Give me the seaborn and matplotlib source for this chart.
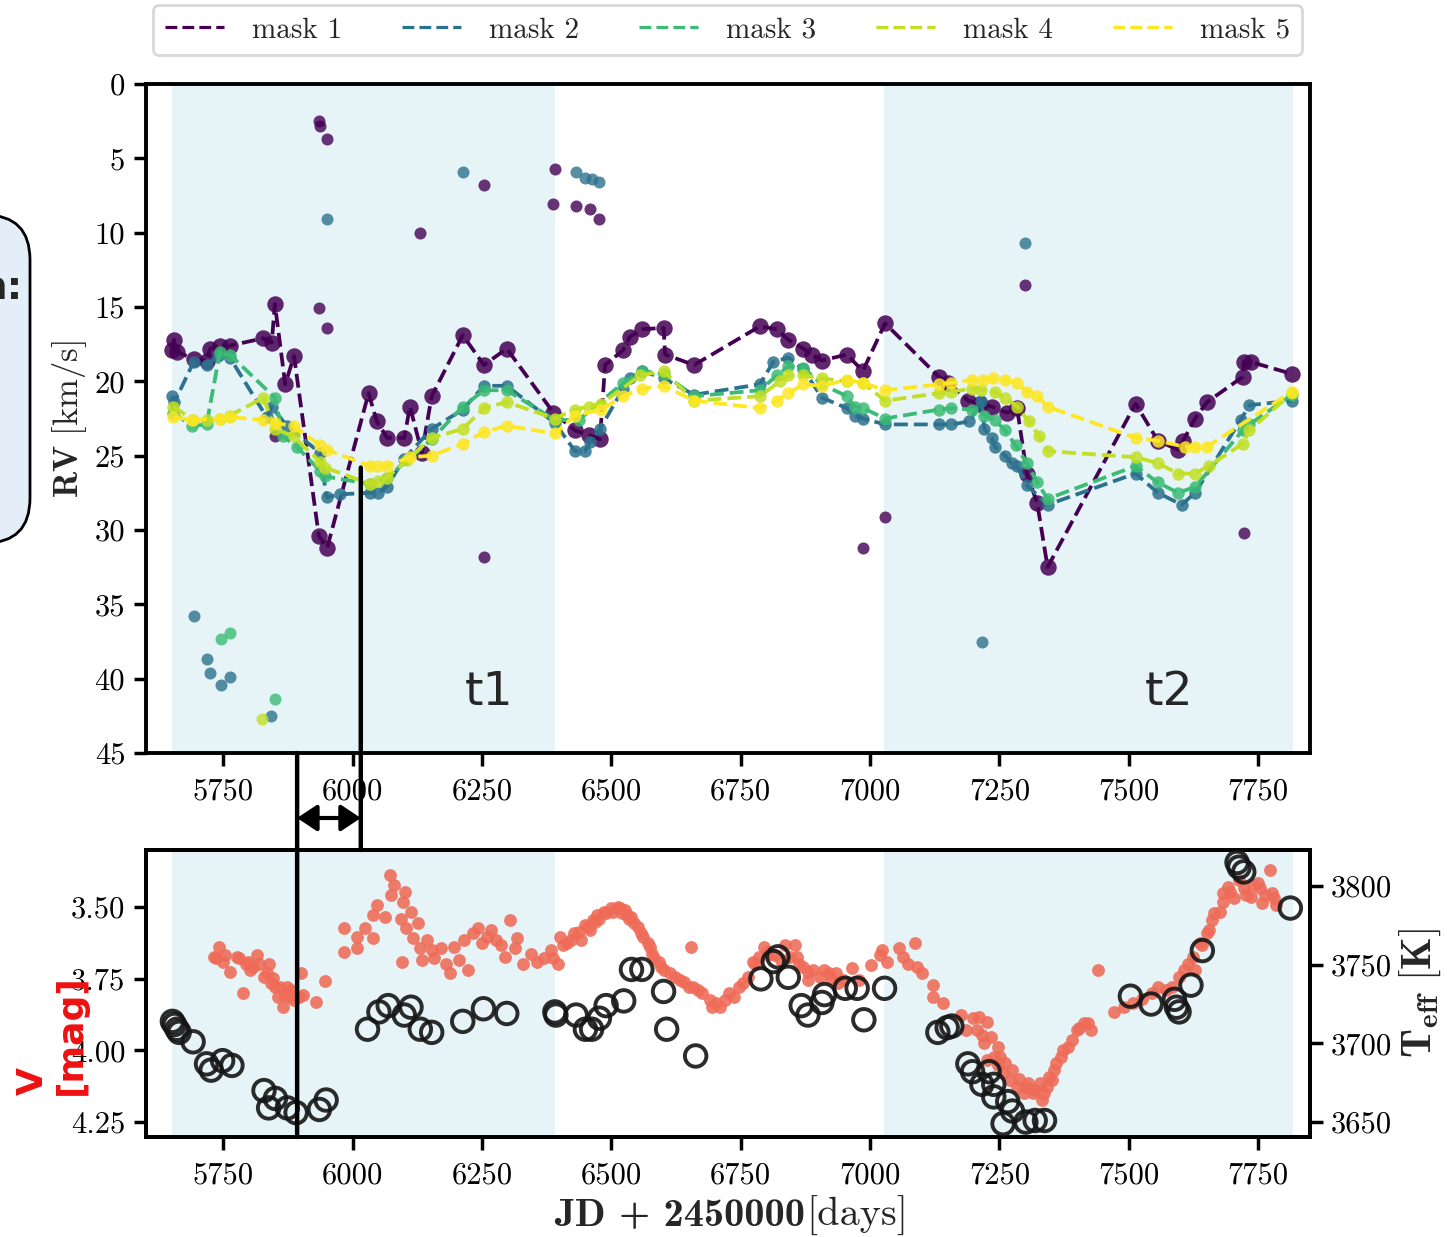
import numpy as np
import pandas as pd
import matplotlib
matplotlib.use("Agg")
import matplotlib.pyplot as plt
import seaborn as sns
from matplotlib.patches import ConnectionPatch, FancyBboxPatch
from matplotlib.transforms import blended_transform_factory

# ---------------- data ----------------
mask_labels = ["mask 1", "mask 2", "mask 3", "mask 4", "mask 5"]
mask_colors = ["#440154", "#2c728e", "#3bbb75", "#c2df23", "#fde725"]

m1_x = [5651, 5655, 5660, 5693, 5718, 5725, 5744, 5763, 5828, 5844, 5850, 5870, 5887, 5935, 5951,
        6031, 6047, 6067, 6100, 6111, 6134, 6153, 6213, 6254, 6298, 6388, 6430, 6456, 6478, 6488,
        6523, 6536, 6559, 6601, 6604, 6660, 6787, 6820, 6842, 6871, 6887, 6907, 6955, 6986, 7029,
        7133, 7151, 7190, 7212, 7235, 7264, 7284, 7303, 7323, 7343, 7513, 7556, 7595, 7605, 7628,
        7651, 7720, 7722, 7736, 7815]
m1_y = [17.9, 17.2, 18.0, 18.5, 18.6, 17.8, 17.6, 17.6, 17.1, 17.4, 14.8, 20.2, 18.3, 30.4, 31.2,
        20.8, 22.7, 23.8, 23.8, 21.7, 24.8, 21.0, 16.9, 18.9, 17.8, 22.1, 23.3, 23.6, 23.9, 18.9,
        17.9, 17.0, 16.5, 16.4, 18.2, 18.9, 16.3, 16.5, 17.2, 17.8, 18.2, 18.6, 18.2, 19.3, 16.1,
        19.7, 20.1, 21.3, 21.5, 21.7, 22.1, 21.8, 26.2, 28.2, 32.5, 21.5, 24.0, 24.6, 24.0, 22.5,
        21.4, 19.7, 18.7, 18.7, 19.5]
m1_out_x = [5935, 5937, 5951, 5935, 5951, 5850, 6131, 6254, 6391, 6388, 6432, 6459, 6477, 6254,
            6986, 7028, 7299, 7722]
m1_out_y = [2.5, 2.8, 3.7, 15.1, 16.4, 23.7, 10.0, 6.8, 5.7, 8.1, 8.2, 8.4, 9.1, 31.8,
            31.2, 29.1, 13.5, 30.2]

m2_x = [5652, 5656, 5693, 5718, 5741, 5763, 5834, 5844, 5873, 5937, 5950, 5976, 6034, 6050, 6066,
        6100, 6153, 6213, 6254, 6298, 6391, 6430, 6449, 6459, 6478, 6523, 6536, 6559, 6601, 6660,
        6787, 6813, 6842, 6871, 6907, 6955, 6971, 6986, 7029, 7133, 7156, 7192, 7215, 7221, 7235,
        7241, 7261, 7274, 7284, 7303, 7343, 7513, 7556, 7602, 7628, 7716, 7733, 7815]
m2_y = [21.0, 21.4, 18.7, 18.9, 18.3, 18.4, 22.4, 21.7, 23.0, 24.8, 27.8, 27.6, 27.5, 27.5, 27.1,
        25.2, 23.2, 21.9, 20.3, 20.3, 22.8, 24.7, 24.7, 24.1, 23.2, 20.5, 19.8, 19.3, 19.8, 20.9,
        20.2, 18.7, 18.4, 19.2, 21.1, 21.8, 22.3, 22.5, 22.9, 22.9, 22.9, 22.7, 21.3, 23.2, 23.8,
        24.4, 25.0, 25.5, 25.7, 27.0, 28.3, 26.2, 27.5, 28.3, 27.5, 22.6, 21.6, 21.3]
m2_out_x = [5951, 6213, 6432, 6450, 6463, 6477, 7299, 5693, 5718, 5725, 5745, 5764, 5842, 7217]
m2_out_y = [9.1, 5.9, 5.9, 6.3, 6.4, 6.6, 10.7, 35.8, 38.7, 39.6, 40.4, 39.9, 42.5, 37.5]

m3_x = [5654, 5689, 5718, 5744, 5763, 5850, 5866, 5892, 5937, 5947, 6034, 6066, 6153, 6213, 6254,
        6298, 6391, 6437, 6523, 6559, 6601, 6660, 6787, 6820, 6842, 6871, 6907, 6955, 6971, 6986,
        7029, 7133, 7156, 7196, 7221, 7241, 7261, 7281, 7303, 7323, 7343, 7513, 7556, 7595, 7628,
        7720, 7733, 7815]
m3_y = [22.1, 23.0, 22.9, 18.0, 18.2, 21.1, 23.7, 24.4, 26.0, 26.4, 26.9, 26.5, 23.9, 21.7, 20.6,
        20.6, 22.6, 22.6, 20.1, 19.3, 19.5, 21.0, 20.6, 19.6, 19.0, 19.1, 20.2, 21.0, 21.7, 21.8,
        22.5, 21.9, 21.8, 21.9, 22.3, 22.6, 23.3, 24.3, 25.5, 26.8, 27.9, 25.7, 26.8, 27.5, 27.1,
        23.3, 22.9, 20.9]
m3_out_x = [5745, 5764, 5851]
m3_out_y = [37.3, 36.9, 41.4]

m4_x = [5654, 5692, 5718, 5744, 5763, 5828, 5850, 5886, 5937, 5947, 6034, 6050, 6066, 6105, 6153,
        6213, 6254, 6298, 6391, 6430, 6456, 6481, 6556, 6601, 6660, 6787, 6826, 6842, 6871, 6907,
        6955, 6986, 7029, 7133, 7156, 7196, 7215, 7241, 7261, 7284, 7307, 7327, 7343, 7513, 7556,
        7595, 7628, 7654, 7720, 7733, 7815]
m4_y = [21.7, 22.6, 22.6, 22.5, 22.3, 21.1, 23.2, 23.7, 25.4, 25.8, 26.9, 26.7, 26.5, 25.3, 23.8,
        23.2, 21.8, 21.4, 22.5, 21.9, 21.7, 21.5, 19.6, 19.3, 21.3, 21.0, 20.0, 19.6, 19.6, 19.8,
        20.0, 20.1, 21.3, 20.8, 20.7, 20.5, 20.6, 20.7, 21.1, 21.7, 22.7, 23.7, 24.7, 25.1, 25.5,
        26.2, 26.2, 25.7, 24.2, 23.3, 20.8]
m4_out_x = [5826]
m4_out_y = [42.7]

m5_x = [5654, 5689, 5744, 5763, 5828, 5850, 5886, 5937, 5950, 6034, 6050, 6066, 6111, 6153, 6213,
        6254, 6298, 6391, 6430, 6481, 6523, 6559, 6601, 6660, 6787, 6820, 6842, 6871, 6907, 6955,
        6986, 7029, 7133, 7156, 7196, 7218, 7238, 7261, 7284, 7303, 7323, 7343, 7513, 7556, 7608,
        7628, 7651, 7815]
m5_y = [22.4, 22.6, 22.5, 22.4, 22.6, 22.8, 23.0, 24.3, 24.6, 25.7, 25.7, 25.7, 25.1, 25.0, 24.2,
        23.4, 23.0, 23.5, 22.3, 21.9, 21.0, 20.5, 20.3, 21.3, 21.8, 21.3, 20.8, 20.2, 20.3, 19.9,
        20.1, 20.6, 20.2, 20.1, 19.9, 19.9, 19.8, 19.9, 20.1, 20.7, 21.0, 21.7, 23.8, 24.0, 24.4,
        24.4, 24.4, 20.7]
m5_out_x = []
m5_out_y = []

# V-band photometry (days, mag)
v_x = [5732, 5736, 5743, 5749, 5754, 5763, 5776, 5780, 5789, 5794, 5798, 5802, 5807, 5816, 5820,
       5829, 5834, 5838, 5842, 5847, 5851, 5856, 5860, 5865, 5869, 5874, 5878, 5882, 5887, 5896,
       5900, 5905, 5929, 5947,
       5983, 5984, 6009, 6009, 6024, 6039, 6039, 6048, 6063, 6072, 6075, 6080, 6093, 6098, 6102,
       6095, 6104, 6113, 6117, 6126, 6131, 6135, 6144, 6153, 6157, 6171, 6180, 6189, 6197, 6206,
       6215, 6224, 6233, 6242, 6251, 6260, 6268, 6277, 6286, 6295, 6304, 6313, 6317, 6330, 6344,
       6357, 6370, 6384, 6388, 6397, 6401, 6406, 6415, 6423, 6428, 6437, 6441, 6450, 6455, 6459,
       6464, 6468, 6472, 6477, 6486, 6490, 6499, 6503, 6512, 6517, 6521, 6526, 6530, 6534, 6539,
       6543, 6552, 6557, 6561, 6570, 6574, 6579, 6583, 6592, 6597, 6601, 6614, 6623, 6632, 6641,
       6650, 6654, 6658, 6667, 6676, 6690, 6694, 6703,
       6710, 6719, 6728, 6737, 6746, 6755, 6764, 6773, 6777, 6786, 6795, 6800, 6809, 6817, 6827,
       6836, 6845, 6854, 6858, 6862, 6871, 6880, 6880, 6889, 6903, 6911, 6921, 6925, 6934, 6938,
       6948, 6965, 6979, 7001, 7019, 7024, 7032, 7055, 7064, 7073, 7086, 7091, 7100, 7122, 7122,
       7140, 7176, 7185, 7198, 7207, 7211, 7216, 7220, 7225, 7225, 7234, 7239, 7248, 7248, 7252,
       7256, 7261, 7270, 7275, 7283, 7288, 7297, 7301, 7306, 7315, 7319, 7328, 7333, 7337, 7342,
       7346, 7351, 7355, 7360, 7369, 7373, 7382, 7391, 7400, 7404, 7413, 7422, 7427, 7440, 7472,
       7490, 7508, 7526, 7544, 7557, 7571, 7584, 7597, 7606, 7615, 7624, 7628, 7637, 7642, 7651,
       7655, 7660, 7664, 7677, 7682, 7682, 7691, 7695, 7704, 7713, 7722, 7727, 7736, 7740, 7749,
       7754, 7758, 7763, 7772, 7776, 7781, 7785]
v_mag = [3.673, 3.679, 3.638, 3.690, 3.667, 3.726, 3.673, 3.679, 3.801, 3.697, 3.690, 3.720, 3.708,
         3.667, 3.697, 3.743, 3.731, 3.700, 3.766, 3.749, 3.778, 3.813, 3.778, 3.848, 3.807, 3.778,
         3.813, 3.789, 3.824, 3.813, 3.731, 3.807, 3.830, 3.758,
         3.574, 3.658, 3.644, 3.603, 3.574, 3.609, 3.528, 3.493, 3.534, 3.388, 3.458, 3.423, 3.540,
         3.481, 3.447, 3.690, 3.574, 3.516, 3.609, 3.557, 3.644, 3.685, 3.615, 3.650, 3.679, 3.644,
         3.697, 3.731, 3.638, 3.685, 3.615, 3.720, 3.592, 3.574, 3.627, 3.603, 3.580, 3.615, 3.633,
         3.673, 3.545, 3.644, 3.609, 3.697, 3.662, 3.691, 3.679, 3.650, 3.679, 3.697, 3.603, 3.633,
         3.627, 3.615, 3.592, 3.586, 3.615, 3.563, 3.569, 3.580, 3.545, 3.551, 3.528, 3.540, 3.516,
         3.522, 3.505, 3.516, 3.499, 3.505, 3.522, 3.510, 3.528, 3.540, 3.534, 3.557, 3.569, 3.592,
         3.603, 3.627, 3.638, 3.662, 3.679, 3.691, 3.708, 3.720, 3.731, 3.743, 3.755, 3.761, 3.778,
         3.638, 3.778, 3.789, 3.801, 3.824, 3.848, 3.836,
         3.848, 3.824, 3.801, 3.813, 3.778, 3.766, 3.743, 3.690, 3.697, 3.673, 3.638, 3.656, 3.662,
         3.667, 3.685, 3.633, 3.673, 3.633, 3.673, 3.697, 3.708, 3.755, 3.726, 3.720, 3.743, 3.720,
         3.731, 3.749, 3.731, 3.766, 3.755, 3.714, 3.755, 3.702, 3.667, 3.650, 3.690, 3.644, 3.673,
         3.697, 3.627, 3.708, 3.731, 3.772, 3.813, 3.836, 3.877, 3.929, 3.888, 3.929, 3.883, 3.947,
         3.975, 4.034, 3.900, 3.952, 4.022, 4.051, 3.987, 4.022, 4.080, 4.045, 4.103, 4.069, 4.127,
         4.098, 4.150, 4.127, 4.115, 4.150, 4.138, 4.115, 4.173, 4.150, 4.127, 4.092, 4.103, 4.069,
         4.045, 4.022, 3.999, 3.987, 3.964, 3.929, 3.923, 3.906, 3.906, 3.929, 3.720, 3.865, 3.848,
         3.836, 3.819, 3.801, 3.778, 3.789, 3.778, 3.743, 3.720, 3.697, 3.673, 3.720, 3.627, 3.633,
         3.592, 3.580, 3.545, 3.522, 3.516, 3.452, 3.482, 3.429, 3.447, 3.470, 3.406, 3.435, 3.458,
         3.464, 3.423, 3.417, 3.435, 3.487, 3.458, 3.371, 3.452, 3.470, 3.493]

# Effective temperature (days, K)
t_x = [5652, 5656, 5661, 5665, 5692, 5718, 5727, 5749, 5767, 5829, 5838, 5851, 5874, 5891, 5936,
       5949, 6029, 6051, 6069, 6100, 6113, 6131, 6153, 6213, 6253, 6298, 6391, 6393, 6432, 6450,
       6462, 6477, 6490, 6524, 6539, 6559, 6601, 6607, 6663, 6789, 6813, 6822, 6842, 6867, 6880,
       6907, 6912, 6952, 6975, 6988, 7028, 7131, 7149, 7158, 7189, 7198, 7216, 7230, 7239, 7239,
       7266, 7275, 7257, 7301, 7319, 7337, 7503, 7543, 7588, 7592, 7597, 7620, 7642, 7709, 7713,
       7722, 7812]
t_teff = [3714, 3712, 3709, 3707, 3701, 3687, 3683, 3689, 3686, 3670, 3659, 3665, 3659, 3656, 3658,
          3664, 3709, 3720, 3724, 3718, 3723, 3709, 3707, 3714, 3722, 3719, 3720, 3718, 3718, 3709,
          3709, 3716, 3724, 3727, 3747, 3747, 3733, 3709, 3692, 3741, 3752, 3755, 3742, 3724, 3718,
          3726, 3731, 3735, 3735, 3715, 3735, 3707, 3710, 3711, 3687, 3682, 3674, 3682, 3674, 3666,
          3663, 3657, 3649, 3650, 3651, 3651, 3730, 3725, 3728, 3723, 3720, 3737, 3759, 3815, 3812,
          3809, 3786]

xticks = [5750, 6000, 6250, 6500, 6750, 7000, 7250, 7500, 7750]
rv_ticks = [0, 5, 10, 15, 20, 25, 30, 35, 40, 45]
v_ticks = [3.50, 3.75, 4.00, 4.25]
teff_ticks = [3650, 3700, 3750, 3800]
bands = [(5651, 6391), (7027, 7817)]
band_labels = ["t1", "t2"]
band_label_x = [6264, 7578]
line_a_day = 5893
line_b_day = 6016
line_b_rv = 25.8

# ---------------- style ----------------
sns.set_style("ticks")
plt.rcParams["font.family"] = ["cmr10", "DejaVu Serif"]
plt.rcParams["mathtext.fontset"] = "cm"
plt.rcParams["axes.formatter.use_mathtext"] = False
plt.rcParams["axes.unicode_minus"] = False

W, H = 1447, 1237
fig = plt.figure(figsize=(W / 100, H / 100), dpi=100)

def fx(px):
    return px / W

def fy(py):
    return 1 - py / H

ax1 = fig.add_axes([fx(146), fy(753), fx(1310) - fx(146), fy(84) - fy(753)])
ax2 = fig.add_axes([fx(146), fy(1137), fx(1310) - fx(146), fy(850) - fy(1137)])
ax2r = ax2.twinx()

xlim = (5601, 7850)

# ---------------- top panel ----------------
for a in (ax1, ax2):
    for b0, b1 in bands:
        a.axvspan(b0, b1, color="lightblue", alpha=0.3, lw=0, zorder=0)

lines_x = [m1_x, m2_x, m3_x, m4_x, m5_x]
lines_y = [m1_y, m2_y, m3_y, m4_y, m5_y]
outs_x = [m1_out_x, m2_out_x, m3_out_x, m4_out_x, m5_out_x]
outs_y = [m1_out_y, m2_out_y, m3_out_y, m4_out_y, m5_out_y]
line_sizes = [140, 80, 80, 80, 80]

for i in range(5):
    df_line = pd.DataFrame({"day": lines_x[i], "rv": lines_y[i]})
    sns.lineplot(data=df_line, x="day", y="rv", ax=ax1, color=mask_colors[i], linestyle="--",
                 linewidth=2.7, estimator=None, sort=False, label=mask_labels[i], zorder=2 + i)
    sns.scatterplot(data=df_line, x="day", y="rv", ax=ax1, color=mask_colors[i], s=line_sizes[i],
                    alpha=0.85, linewidth=0, zorder=2 + i, legend=False)
    if len(outs_x[i]):
        df_out = pd.DataFrame({"day": outs_x[i], "rv": outs_y[i]})
        sns.scatterplot(data=df_out, x="day", y="rv", ax=ax1, color=mask_colors[i], s=75,
                        alpha=0.8, linewidth=0, zorder=2 + i, legend=False)

ax1.set_xlim(*xlim)
ax1.set_ylim(45, 0)
ax1.set_xticks(xticks)
ax1.set_xticklabels([str(v) for v in xticks])
ax1.set_yticks(rv_ticks)
ax1.set_yticklabels([str(v) for v in rv_ticks])
ax1.set_xlabel("")
ax1.set_ylabel(r"$\mathbf{RV}\ [\mathrm{km/s}]$", fontsize=25, labelpad=4)

for lab, xx in zip(band_labels, band_label_x):
    ax1.text(xx, 41.8, lab, fontsize=34, family="DejaVu Sans", ha="center", va="baseline",
             zorder=10)

leg = ax1.legend(loc="lower left", bbox_to_anchor=(0.006, 1.043, 0.987, 0.075), mode="expand",
                 ncol=5, fontsize=21, handlelength=2.05, handletextpad=0.95, frameon=True,
                 fancybox=True, framealpha=1, edgecolor="#d8d8d8", borderpad=0.4,
                 borderaxespad=0)
leg.get_frame().set_linewidth(2)
for h in leg.get_lines():
    h.set_linewidth(2.3)

# ---------------- bottom panel ----------------
df_v = pd.DataFrame({"day": v_x, "mag": v_mag})
sns.scatterplot(data=df_v, x="day", y="mag", ax=ax2, color="#ef6b57", s=85, alpha=0.88,
                linewidth=0, zorder=3, legend=False)
ax2.set_xlim(*xlim)
ax2.set_ylim(4.302, 3.301)
ax2.set_xticks(xticks)
ax2.set_xticklabels([str(v) for v in xticks])
ax2.set_yticks(v_ticks)
ax2.set_yticklabels([f"{v:.2f}" for v in v_ticks])
ax2.set_ylabel("")
ax2.set_xlabel("")

df_t = pd.DataFrame({"day": t_x, "teff": t_teff})
sns.scatterplot(data=df_t, x="day", y="teff", ax=ax2r, facecolors="none", edgecolor="#151515",
                s=240, linewidth=2.8, alpha=0.9, zorder=4, legend=False)
ax2r.set_ylim(3640.5, 3822.9)
ax2r.set_yticks(teff_ticks)
ax2r.set_yticklabels([str(v) for v in teff_ticks])
ax2r.set_ylabel(r"$\mathbf{T_{eff}\ [K]}$", fontsize=30, labelpad=4)
ax2r.set_xlim(*xlim)

# x label: bold part + regular part
fig.text(fx(805), fy(1226), "JD + 2450000", family="cmb10", fontsize=29, ha="right",
         va="baseline")
fig.text(fx(806), fy(1226), "[days]", family="cmr10", fontsize=29, ha="left", va="baseline")

fig.text(fx(52), fy(1035), "V\n[mag]", rotation=90, color="#ee1111", fontsize=26,
         fontweight="bold", family="DejaVu Sans", ha="center", va="center",
         multialignment="left", linespacing=1.15)

# ---------------- axes styling ----------------
for a in (ax1, ax2, ax2r):
    for sp in a.spines.values():
        sp.set_linewidth(2.8)
        sp.set_color("black")
    a.tick_params(axis="both", which="major", direction="out", length=9, width=2.5,
                  labelsize=22, pad=6, colors="black")
ax2r.tick_params(axis="x", which="both", bottom=False, labelbottom=False)
ax1.tick_params(axis="x", pad=9)
ax2.tick_params(axis="x", pad=9)

# ---------------- annotations across panels ----------------
con_a = ConnectionPatch(xyA=(line_a_day, 45), coordsA="data", axesA=ax1,
                        xyB=(line_a_day, 4.302), coordsB="data", axesB=ax2,
                        color="black", lw=3.2, zorder=20)
fig.add_artist(con_a)
con_b = ConnectionPatch(xyA=(line_b_day, line_b_rv), coordsA="data", axesA=ax1,
                        xyB=(line_b_day, 3.301), coordsB="data", axesB=ax2,
                        color="black", lw=3.2, zorder=20)
fig.add_artist(con_b)
trans = blended_transform_factory(ax2.transData, fig.transFigure)
ax2.annotate("", xy=(line_b_day, fy(818)), xytext=(line_a_day, fy(818)), xycoords=trans,
             textcoords=trans, annotation_clip=False,
             arrowprops=dict(arrowstyle="<|-|>,head_length=0.6,head_width=0.4", color="black",
                             lw=3, mutation_scale=20, shrinkA=0, shrinkB=0))

# cut-off rounded info box on the left edge
box = FancyBboxPatch((-0.6, (H - 543) / 100), 0.9, (543 - 215) / 100,
                     boxstyle="round,pad=0,rounding_size=0.45", transform=fig.dpi_scale_trans,
                     facecolor="#e4eef9", edgecolor="black", lw=2, zorder=0)
fig.add_artist(box)
fig.text(fx(23), fy(288), "n:", fontsize=28, fontweight="bold", family="DejaVu Sans",
         ha="right", va="center")

fig.savefig("out.png", dpi=100)
